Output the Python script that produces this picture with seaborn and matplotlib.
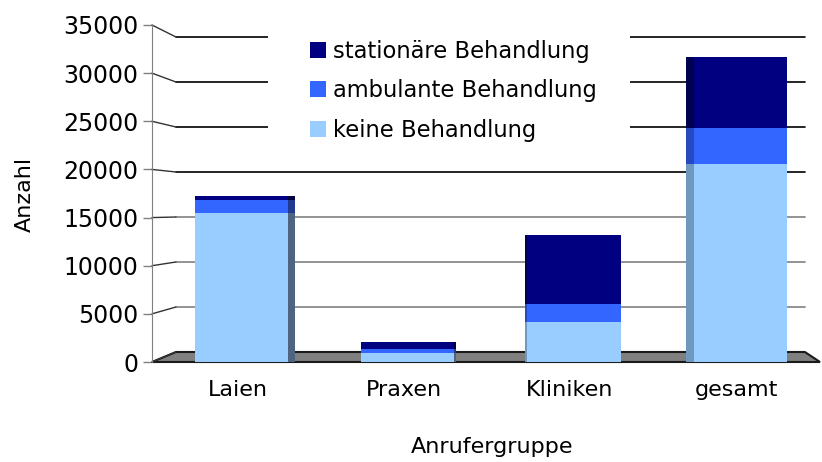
import numpy as np
import pandas as pd
import seaborn as sns
import matplotlib.pyplot as plt
from matplotlib.patches import Polygon, Rectangle
from matplotlib.transforms import ScaledTranslation

# data
categories = ['Laien', 'Praxen', 'Kliniken', 'gesamt']
keine = [15500, 950, 4150, 20600]
ambulant = [1350, 450, 1900, 3700]
stationaer = [400, 650, 7100, 7400]
series_names = ['stationäre Behandlung', 'ambulante Behandlung', 'keine Behandlung']
y_ticks = [0, 5000, 10000, 15000, 20000, 25000, 30000, 35000]

front_colors = ['#000080', '#3366ff', '#99ccff']
side_right = ['#000040', '#1f3a8f', '#4e6480']
side_left = ['#000050', '#2449c0', '#6f98c0']
side_shift = [7, 2, -2, -8]  # px, fake perspective of the 3d columns

# fake 3d box (front axis units)
x_lo, x_hi = -0.538, 3.479
wall_left, wall_right = -0.394, 3.388
depth_lift, depth_scale = 1039, 0.9347


def back(v):
    # value on back wall -> front axis value
    return depth_lift + depth_scale * v


sns.set_style('white')
plt.rcParams['font.family'] = ['DejaVu Sans']
plt.rcParams['text.color'] = 'black'
plt.rcParams['axes.labelcolor'] = 'black'

fig = plt.figure(figsize=(8.22, 4.62), dpi=100)
ax = fig.add_axes([152 / 822, 1 - 362 / 462, 668 / 822, 337 / 462])

df = pd.DataFrame({'Anrufergruppe': categories, 'keine': keine,
                   'ambulant': ambulant, 'stationaer': stationaer})
df['k'] = df['keine']
df['ka'] = df['k'] + df['ambulant']
df['kas'] = df['ka'] + df['stationaer']
stack_cols = ['kas', 'ka', 'k']

# floor
floor = Polygon([(x_lo, 0), (x_hi, 0), (wall_right, depth_lift), (wall_left, depth_lift)],
                closed=True, facecolor='#808080', edgecolor='#1a1a1a', lw=1.5,
                zorder=1, clip_on=False)
ax.add_patch(floor)

# back wall grid + left wall diagonals
for v in y_ticks:
    c = 'black' if v >= 20000 else '#808080'
    if v > 0:
        ax.plot([wall_left, wall_right], [back(v), back(v)], color=c, lw=1.2, zorder=1)
    ax.plot([x_lo, wall_left], [v, back(v)], color='#333333', lw=1, zorder=1, clip_on=False)

# side faces of the columns
for j, col in enumerate(stack_cols):
    n0 = len(ax.patches)
    sns.barplot(data=df, x='Anrufergruppe', y=col, color=side_left[j], width=0.56,
                ax=ax, zorder=2, linewidth=0, saturation=1)
    for i, p in enumerate(ax.patches[n0:]):
        p.set_facecolor(side_right[j] if side_shift[i] > 0 else side_left[j])
        p.set_transform(ax.transData + ScaledTranslation(side_shift[i] / 100, 0, fig.dpi_scale_trans))

# front faces
for j, col in enumerate(stack_cols):
    sns.barplot(data=df, x='Anrufergruppe', y=col, color=front_colors[j], width=0.56,
                ax=ax, zorder=3 + j, linewidth=0, saturation=1, label=series_names[j])
if ax.get_legend() is not None:
    ax.get_legend().remove()

ax.set_xlim(x_lo, x_hi)
ax.set_ylim(0, 35000)
ax.set_yticks(y_ticks)
for s in ['top', 'right', 'bottom']:
    ax.spines[s].set_visible(False)
ax.spines['left'].set_color('#808080')
ax.tick_params(axis='y', length=6.5, color='#808080', width=1, pad=3.5, labelsize=17,
               labelcolor='black', left=True)
ax.tick_params(axis='x', length=0, pad=13, labelsize=16, labelcolor='black')
for lab in ax.get_xticklabels():
    lab.set_transform(lab.get_transform() + ScaledTranslation(-0.04, 0, fig.dpi_scale_trans))

ax.set_ylabel('Anzahl', fontsize=16)
ax.yaxis.set_label_coords(-0.175, 0.496)
ax.set_xlabel('Anrufergruppe', fontsize=16)
ax.xaxis.set_label_coords(0.509, -0.223)

# white box behind legend hides the grid lines
fig.patches.append(Rectangle((268 / 822, 1 - 150 / 462), 362 / 822, 118 / 462,
                             transform=fig.transFigure, facecolor='white', edgecolor='none', zorder=5))
handles, labels = ax.get_legend_handles_labels()
fig.legend(handles, labels, loc='upper left', bbox_to_anchor=(310 / 822, 1 - 40 / 462),
           frameon=False, fontsize=16.3, borderpad=0, borderaxespad=0,
           handlelength=0.72, handleheight=0.72, handletextpad=0.3, labelspacing=0.72)

fig.savefig('out.png', dpi=100)
